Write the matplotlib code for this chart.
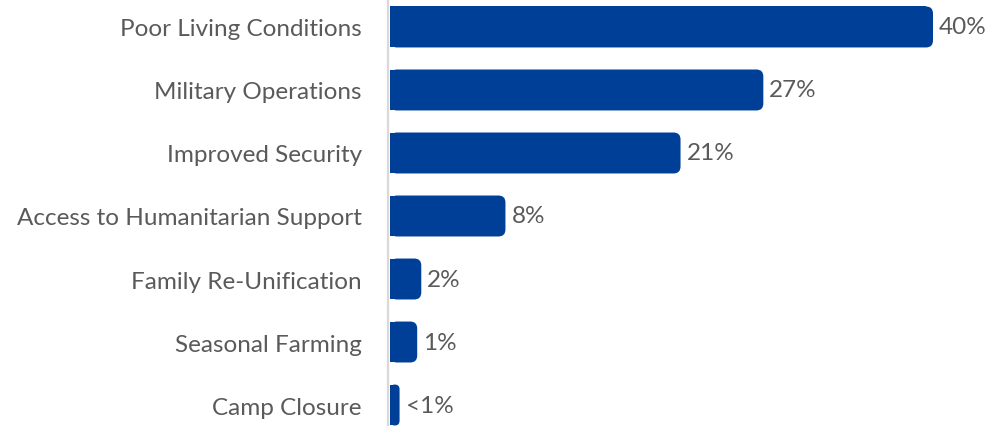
import matplotlib.pyplot as plt
from matplotlib.patches import FancyBboxPatch, Rectangle

categories = [
    "Poor Living Conditions",
    "Military Operations",
    "Improved Security",
    "Access to Humanitarian Support",
    "Family Re-Unification",
    "Seasonal Farming",
    "Camp Closure",
]
values = [40.0, 27.5, 21.4, 8.5, 2.3, 2.0, 0.7]
value_labels = ["40%", "27%", "21%", "8%", "2%", "1%", "<1%"]

bar_color = "#003f98"
text_color = "#5a5a5a"

plt.rcParams["font.family"] = ["Lato", "DejaVu Sans"]

fig = plt.figure(figsize=(9.9, 4.27), dpi=100)
ax = fig.add_axes([0.394, 0, 0.606, 1])

px_x = 13.575  # pixels per x unit
px_y = 63.0    # pixels per bar slot
ax.set_xlim(0, 600 / px_x)
ax.set_ylim(6.333, -0.444)

bar_h = 0.65
radius_px = 7
r = radius_px / px_x
aspect = (radius_px / px_y) / r

for i, v in enumerate(values):
    y0 = i - bar_h / 2
    rr = min(r, v / 2)
    # square left part
    ax.add_patch(Rectangle((0, y0), max(v - rr, 0), bar_h, facecolor=bar_color,
                           edgecolor="none", zorder=2))
    # rounded right part
    ax.add_patch(FancyBboxPatch((0, y0), v, bar_h,
                                boxstyle=f"round,pad=0,rounding_size={rr}",
                                mutation_aspect=aspect, facecolor=bar_color,
                                edgecolor="none", zorder=2))
    ax.text(v + 6 / px_x, i, value_labels[i], va="center", ha="left",
            fontsize=17.5, color=text_color)

ax.set_yticks(range(len(categories)))
ax.set_yticklabels(categories)
ax.tick_params(axis="y", length=0, pad=19, labelsize=17.5, labelcolor=text_color)
ax.set_xticks([])

for s in ["top", "right", "bottom"]:
    ax.spines[s].set_visible(False)
ax.spines["left"].set_color("#d9d9d9")
ax.spines["left"].set_linewidth(1.6)
ax.spines["left"].set_position(("data", -2 / px_x))
ax.spines["left"].set_zorder(3)

fig.savefig("out.png", dpi=100)
